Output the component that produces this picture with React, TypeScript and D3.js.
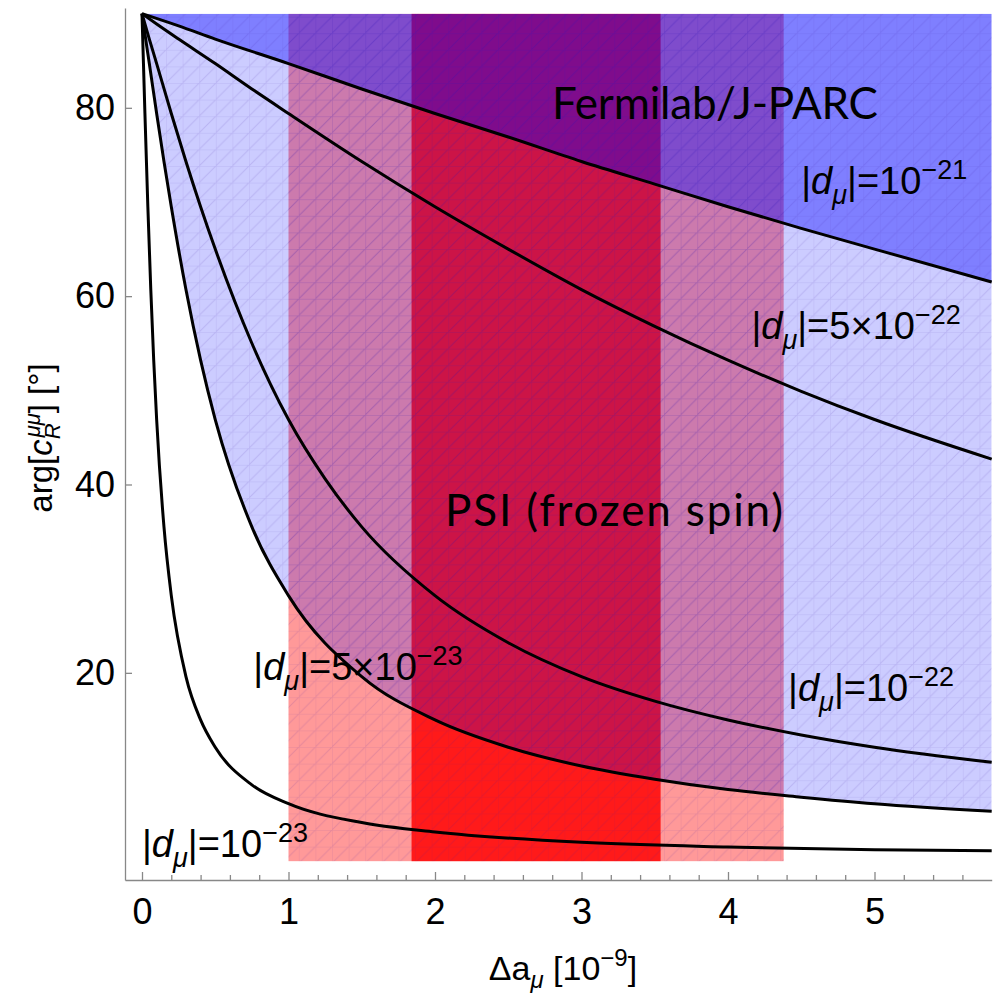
import React, { useEffect, useRef } from 'react';
import * as d3 from 'd3';

// curves: [Δa_μ, arg in degrees]
const curve1e21: [number, number][] = [[0, 90], [0.25, 88.7], [0.5, 87.3], [1, 84.7], [1.5, 82.0], [2, 79.4], [2.5, 76.9], [3, 74.3], [3.5, 71.9], [4, 69.5], [4.5, 67.2], [5, 65.0], [5.8, 61.5]];
const curve5e22: [number, number][] = [[0, 90], [0.1, 88.9], [0.25, 87.3], [0.5, 84.7], [0.75, 82.0], [1, 79.4], [1.5, 74.3], [2, 69.5], [2.5, 65.0], [3, 60.7], [3.5, 56.8], [4, 53.2], [4.5, 49.9], [5, 46.9], [5.8, 42.7]];
const curve1e22: [number, number][] = [[0, 90], [0.05, 87.3], [0.1, 84.7], [0.2, 79.4], [0.3, 74.3], [0.4, 69.5], [0.5, 65.0], [0.75, 55.0], [1, 46.9], [1.25, 40.6], [1.5, 35.5], [2, 28.2], [2.5, 23.2], [3, 19.6], [3.5, 17.0], [4, 15.0], [4.5, 13.4], [5, 12.1], [5.8, 10.5]];
const curve5e23: [number, number][] = [[0, 90], [0.025, 87.3], [0.05, 84.7], [0.1, 79.4], [0.15, 74.3], [0.2, 69.5], [0.3, 60.7], [0.4, 53.2], [0.5, 46.9], [0.75, 35.5], [1, 28.2], [1.5, 19.6], [2, 15.0], [2.5, 12.1], [3, 10.1], [3.5, 8.7], [4, 7.6], [4.5, 6.8], [5, 6.1], [5.8, 5.3]];
const curve1e23: [number, number][] = [[0, 90], [0.01, 84.7], [0.02, 79.4], [0.04, 69.5], [0.06, 60.7], [0.08, 53.2], [0.1, 46.9], [0.15, 35.5], [0.2, 28.2], [0.3, 19.6], [0.4, 15.0], [0.5, 12.1], [0.75, 8.1], [1, 6.1], [1.5, 4.1], [2, 3.1], [3, 2.0], [4, 1.5], [5, 1.2], [5.8, 1.1]];

const psiWide = [1.0, 4.38];
const psiNarrow = [1.84, 3.54];

const xTicks = [0, 1, 2, 3, 4, 5];
const yTicks = [20, 40, 60, 80];

// label: [x, y] anchor in data units, mantissa, exponent
const curveLabels: { at: [number, number]; mant: string; exp: string }[] = [
  { at: [4.5, 70.8], mant: '', exp: '21' },
  { at: [4.16, 55.5], mant: '5×', exp: '22' },
  { at: [4.41, 17.0], mant: '', exp: '22' },
  { at: [0.76, 19.2], mant: '5×', exp: '23' },
  { at: [0.0, 0.4], mant: '', exp: '23' },
];

function Chart() {
  const ref = useRef<SVGSVGElement>(null);

  useEffect(() => {
    const width = 994;
    const height = 996;
    const svg = d3.select(ref.current).attr('width', width).attr('height', height);
    svg.selectAll('*').remove();

    const x = d3.scaleLinear().domain([-0.116, 5.8]).range([125, 991.7]);
    const y = d3.scaleLinear().domain([-2, 90.6]).range([880, 8]);

    const defs = svg.append('defs');
    defs.append('clipPath').attr('id', 'plotclip')
      .append('rect')
      .attr('x', x(0)).attr('y', y(90))
      .attr('width', x(5.8) - x(0)).attr('height', y(0) - y(90) + 40);
    const cell = 16.6;
    const pat = defs.append('pattern').attr('id', 'mesh')
      .attr('patternUnits', 'userSpaceOnUse')
      .attr('width', cell).attr('height', cell);
    pat.append('path')
      .attr('d', `M0,0V${cell}M0,0H${cell}M0,${cell}L${cell},0`)
      .attr('stroke', 'rgba(60,20,160,0.13)')
      .attr('stroke-width', 1)
      .attr('fill', 'none');

    const g = svg.append('g').attr('clip-path', 'url(#plotclip)');

    // red PSI bands (drawn first, blue lies on top)
    g.append('rect')
      .attr('x', x(psiWide[0])).attr('y', y(90))
      .attr('width', x(psiWide[1]) - x(psiWide[0])).attr('height', y(0) - y(90))
      .attr('fill', 'rgb(255,0,0)').attr('fill-opacity', 0.4);
    g.append('rect')
      .attr('x', x(psiNarrow[0])).attr('y', y(90))
      .attr('width', x(psiNarrow[1]) - x(psiNarrow[0])).attr('height', y(0) - y(90))
      .attr('fill', 'rgb(255,0,0)').attr('fill-opacity', 0.83);
    g.append('rect')
      .attr('x', x(psiWide[0])).attr('y', y(90))
      .attr('width', x(psiWide[1]) - x(psiWide[0])).attr('height', y(0) - y(90))
      .attr('fill', 'url(#mesh)');

    const area = d3.area<[number, number]>()
      .x(d => x(d[0]))
      .y0(y(90))
      .y1(d => y(d[1]))
      .curve(d3.curveMonotoneX);

    g.append('path').attr('d', area(curve5e23)).attr('fill', 'rgb(0,0,255)').attr('fill-opacity', 0.2);
    g.append('path').attr('d', area(curve1e21)).attr('fill', 'rgb(0,0,255)').attr('fill-opacity', 0.375);
    g.append('path').attr('d', area(curve5e23)).attr('fill', 'url(#mesh)');

    const line = d3.line<[number, number]>()
      .x(d => x(d[0]))
      .y(d => y(d[1]))
      .curve(d3.curveMonotoneX);

    [curve1e21, curve5e22, curve1e22, curve5e23, curve1e23].forEach(c => {
      svg.append('path')
        .attr('d', line(c))
        .attr('fill', 'none')
        .attr('stroke', 'black')
        .attr('stroke-width', 3)
        .attr('stroke-linejoin', 'round');
    });

    // big experiment labels
    svg.append('text')
      .attr('x', 552).attr('y', 119)
      .attr('font-family', 'Lato, "Open Sans", sans-serif')
      .attr('font-size', 44)
      .attr('textLength', 326)
      .attr('lengthAdjust', 'spacing')
      .attr('fill', 'black')
      .text('Fermilab/J-PARC');
    svg.append('text')
      .attr('x', 445).attr('y', 526)
      .attr('font-family', 'Lato, "Open Sans", sans-serif')
      .attr('font-size', 44)
      .attr('textLength', 338)
      .attr('lengthAdjust', 'spacing')
      .attr('fill', 'black')
      .text('PSI (frozen spin)');

    // curve labels |d_μ|=...
    curveLabels.forEach(l => {
      const t = svg.append('text')
        .attr('x', x(l.at[0])).attr('y', y(l.at[1]))
        .attr('font-family', '"Liberation Sans", Arial, sans-serif')
        .attr('font-size', 38)
        .attr('fill', 'black');
      t.append('tspan').text('|');
      t.append('tspan').attr('font-style', 'italic').text('d');
      t.append('tspan').attr('font-style', 'italic').attr('font-size', 27).attr('dy', 10).text('μ');
      t.append('tspan').attr('dy', -10).text(`|=${l.mant}10`);
      t.append('tspan').attr('font-size', 27).attr('dy', -15).text(`−${l.exp}`);
    });

    // axes
    const axisColor = '#888';
    const xAxis = svg.append('g').attr('transform', `translate(0,${y(-2)})`)
      .call(d3.axisBottom(x).tickValues(xTicks).tickSize(-8).tickSizeOuter(0).tickPadding(18).tickFormat(d3.format('d')));
    svg.append('g').attr('transform', `translate(0,${y(-2)})`)
      .call(d3.axisBottom(x).tickValues(d3.range(1, 29).filter(i => i % 5 !== 0).map(i => i / 5)).tickSize(-5).tickFormat(() => ''))
      .call(a => a.select('.domain').remove());
    const yAxis = svg.append('g').attr('transform', `translate(${x(-0.116)},0)`)
      .call(d3.axisLeft(y).tickValues(yTicks).tickSize(-7).tickSizeOuter(0).tickPadding(10));

    svg.selectAll('.domain, .tick line').attr('stroke', axisColor).attr('stroke-width', 1.3);
    [xAxis, yAxis].forEach(a => a.selectAll('text')
      .attr('font-family', '"Liberation Sans", Arial, sans-serif')
      .attr('font-size', 36)
      .attr('fill', 'black'));

    // axis titles
    const xt = svg.append('text')
      .attr('x', 563).attr('y', 980)
      .attr('text-anchor', 'middle')
      .attr('font-family', '"Liberation Sans", Arial, sans-serif')
      .attr('font-size', 34);
    xt.append('tspan').text('Δa');
    xt.append('tspan').attr('font-style', 'italic').attr('font-size', 24).attr('dy', 8).text('μ');
    xt.append('tspan').attr('dy', -8).text(' [10');
    xt.append('tspan').attr('font-size', 24).attr('dy', -14).text('−9');
    xt.append('tspan').attr('dy', 14).text(']');

    const yt = svg.append('text')
      .attr('transform', 'translate(52,438) rotate(-90)')
      .attr('text-anchor', 'middle')
      .attr('font-family', '"Liberation Sans", Arial, sans-serif')
      .attr('font-size', 33);
    yt.append('tspan').text('arg[');
    yt.append('tspan').attr('font-style', 'italic').text('c');
    yt.append('tspan').attr('font-style', 'italic').attr('font-size', 22).attr('dy', 8).text('R');
    yt.append('tspan').attr('font-style', 'italic').attr('font-size', 22).attr('dx', -14).attr('dy', -20).text('μμ');
    yt.append('tspan').attr('dy', 12).text('] [°]');
  });

  return <svg ref={ref} style={{ position: 'absolute', left: 0, top: 0 }} />;
}

export default function App() {
  return <Chart />;
}
